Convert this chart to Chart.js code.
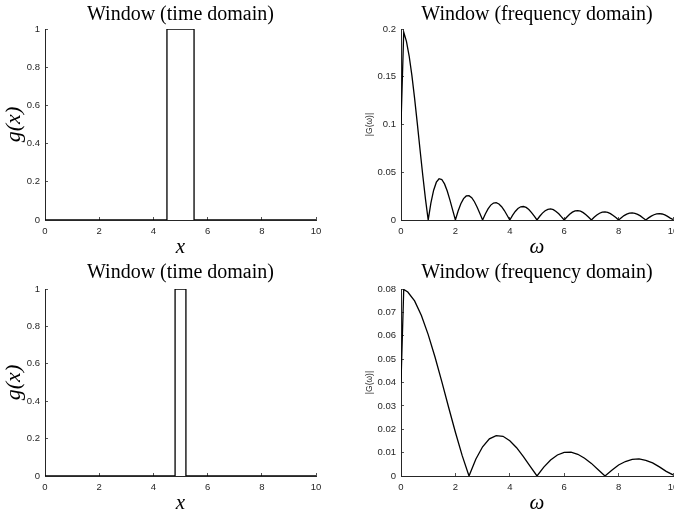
<!DOCTYPE html>
<html>
<head>
<meta charset="utf-8">
<script src="https://cdn.jsdelivr.net/npm/chart.js@4.4.1/dist/chart.umd.min.js"></script>
<style>
  html, body { margin: 0; padding: 0; background: #fff; overflow: hidden; }
  body { width: 674px; height: 512px; position: relative; }
  .panel { position: absolute; }
</style>
</head>
<body>
<div class="panel" style="left:0;top:0;width:337px;height:256px"><canvas id="g1"></canvas></div>
<div class="panel" style="left:337px;top:0;width:363px;height:256px"><canvas id="f1"></canvas></div>
<div class="panel" style="left:0;top:256px;width:337px;height:256px"><canvas id="g2"></canvas></div>
<div class="panel" style="left:337px;top:256px;width:363px;height:256px"><canvas id="f2"></canvas></div>
<script>
// window 1 (time domain): corners of the rectangle
var time1X = [0, 4.5, 4.5, 5.5, 5.5, 10];
var time1Y = [0, 0, 1, 1, 0, 0];
// window 2 (time domain)
var time2X = [0, 4.8, 4.8, 5.2, 5.2, 10];
var time2Y = [0, 0, 1, 1, 0, 0];

// window 1 spectrum |G(w)| (w = 0, 0.1, ... 10)
var freq1X = [];
for (var i = 0; i <= 100; i++) freq1X.push(i / 10);
var freq1Y = [
  0.1, 0.1967, 0.1871, 0.1717, 0.1514, 0.1273, 0.1009, 0.0736, 0.0468, 0.0219,
  0, 0.0179, 0.0312, 0.0396, 0.0432, 0.0424, 0.0378, 0.0303, 0.0208, 0.0104,
  0, 0.0094, 0.0170, 0.0224, 0.0252, 0.0255, 0.0233, 0.0191, 0.0134, 0.0068,
  0, 0.0063, 0.0117, 0.0156, 0.0178, 0.0182, 0.0168, 0.0139, 0.0099, 0.0050,
  0, 0.0048, 0.0089, 0.0120, 0.0138, 0.0141, 0.0132, 0.0110, 0.0078, 0.0040,
  0, 0.0039, 0.0072, 0.0097, 0.0112, 0.0116, 0.0108, 0.0090, 0.0065, 0.0033,
  0, 0.0032, 0.0060, 0.0082, 0.0095, 0.0098, 0.0092, 0.0077, 0.0055, 0.0029,
  0, 0.0028, 0.0052, 0.0071, 0.0082, 0.0085, 0.0080, 0.0067, 0.0048, 0.0025,
  0, 0.0024, 0.0046, 0.0062, 0.0072, 0.0075, 0.0070, 0.0059, 0.0043, 0.0022,
  0, 0.0022, 0.0041, 0.0055, 0.0064, 0.0067, 0.0063, 0.0053, 0.0038, 0.0020,
  0.0005
];

// window 2 spectrum |G(w)|
var freq2X = [0, 0.1, 0.25, 0.5, 0.75, 1, 1.25, 1.5, 1.75, 2, 2.25, 2.5,
  2.75, 3, 3.25, 3.5, 3.75, 4, 4.25, 4.5, 4.75, 5,
  5.25, 5.5, 5.75, 6, 6.25, 6.5, 6.75, 7, 7.25, 7.5,
  7.75, 8, 8.25, 8.5, 8.75, 9, 9.25, 9.5, 9.75, 10];
var freq2Y = [0.04, 0.0798, 0.0787, 0.0749, 0.0687, 0.0605, 0.0509, 0.0404, 0.0294, 0.0187, 0.0087, 0,
  0.0072, 0.0125, 0.0159, 0.0173, 0.0170, 0.0151, 0.0121, 0.0083, 0.0041, 0,
  0.0038, 0.0068, 0.0090, 0.0101, 0.0102, 0.0093, 0.0076, 0.0054, 0.0027, 0,
  0.0025, 0.0047, 0.0062, 0.0071, 0.0073, 0.0067, 0.0056, 0.0039, 0.0020, 0.0005];

var axisColor = '#262626';
var serif = "'Liberation Serif', 'Times New Roman', serif";
var sans = "'Liberation Sans', Arial, sans-serif";

function pts(xs, ys) {
  var out = [];
  for (var i = 0; i < xs.length; i++) out.push({ x: xs[i], y: ys[i] });
  return out;
}

// matlab style tick text: 1 not 1.0, 0.2 not 0.20
function tickText(v) {
  return String(Math.round(v * 1000) / 1000);
}

function makeChart(id, opt) {
  var ctx = document.getElementById(id).getContext('2d');
  return new Chart(ctx, {
    type: 'line',
    data: {
      datasets: [{
        data: pts(opt.xs, opt.ys),
        borderColor: '#000',
        borderWidth: 1.3,
        pointRadius: 0,
        fill: false,
        tension: 0
      }]
    },
    options: {
      responsive: true,
      maintainAspectRatio: false,
      animation: false,
      events: [],
      layout: { padding: { left: 0, right: opt.padRight, top: 0, bottom: 0 } },
      plugins: {
        legend: { display: false },
        tooltip: { enabled: false },
        title: {
          display: true,
          fullSize: false,
          text: opt.title,
          color: '#000',
          font: { family: serif, size: 20, weight: 'normal', lineHeight: 1.2 },
          padding: { top: opt.titleTop, bottom: opt.titleBottom }
        }
      },
      scales: {
        x: {
          type: 'linear',
          min: 0, max: 10,
          afterFit: function(scale) { scale.height = 36; },
          ticks: { stepSize: 2, color: axisColor, padding: 9, maxRotation: 0,
                   font: { family: sans, size: 9.5 }, callback: tickText },
          grid: { drawOnChartArea: false, tickLength: -3, color: axisColor, lineWidth: 0.8 },
          border: { display: true, color: axisColor, width: 1 },
          title: { display: true, text: opt.xTitle, color: '#000',
                   font: { family: serif, size: 21, style: 'italic', lineHeight: 0.8 },
                   padding: { top: 0, bottom: 0 } }
        },
        y: {
          type: 'linear',
          min: 0, max: opt.yMax,
          afterFit: function(scale) { scale.width = opt.yWidth; },
          ticks: { stepSize: opt.yStep, color: axisColor, padding: 8,
                   font: { family: sans, size: 9.5 }, callback: tickText },
          grid: { drawOnChartArea: false, tickLength: -3, color: axisColor, lineWidth: 0.8 },
          border: { display: true, color: axisColor, width: 1 },
          title: { display: true, text: opt.yTitle, color: opt.yTitleColor,
                   font: opt.yTitleFont,
                   padding: { top: opt.yTitlePad, bottom: 0 } }
        }
      }
    }
  });
}

var timeFont = { family: serif, size: 22, style: 'italic', lineHeight: 1.2 };
var freqFont = { family: sans, size: 8.5, lineHeight: 1.2 };

makeChart('g1', { xs: time1X, ys: time1Y, title: 'Window (time domain)', titleTop: 3, titleBottom: 2,
  xTitle: 'x', yTitle: 'g(x)', yTitleColor: '#000', yTitleFont: timeFont, yTitlePad: 1,
  yMax: 1, yStep: 0.2, yWidth: 45, padRight: 21 });
makeChart('f1', { xs: freq1X, ys: freq1Y, title: 'Window (frequency domain)', titleTop: 3, titleBottom: 2,
  xTitle: 'ω', yTitle: '|G(ω)|', yTitleColor: axisColor, yTitleFont: freqFont, yTitlePad: 28,
  yMax: 0.2, yStep: 0.05, yWidth: 64, padRight: 27 });
makeChart('g2', { xs: time2X, ys: time2Y, title: 'Window (time domain)', titleTop: 5, titleBottom: 4,
  xTitle: 'x', yTitle: 'g(x)', yTitleColor: '#000', yTitleFont: timeFont, yTitlePad: 1,
  yMax: 1, yStep: 0.2, yWidth: 45, padRight: 21 });
makeChart('f2', { xs: freq2X, ys: freq2Y, title: 'Window (frequency domain)', titleTop: 5, titleBottom: 4,
  xTitle: 'ω', yTitle: '|G(ω)|', yTitleColor: axisColor, yTitleFont: freqFont, yTitlePad: 28,
  yMax: 0.08, yStep: 0.01, yWidth: 64, padRight: 27 });
</script>
</body>
</html>
